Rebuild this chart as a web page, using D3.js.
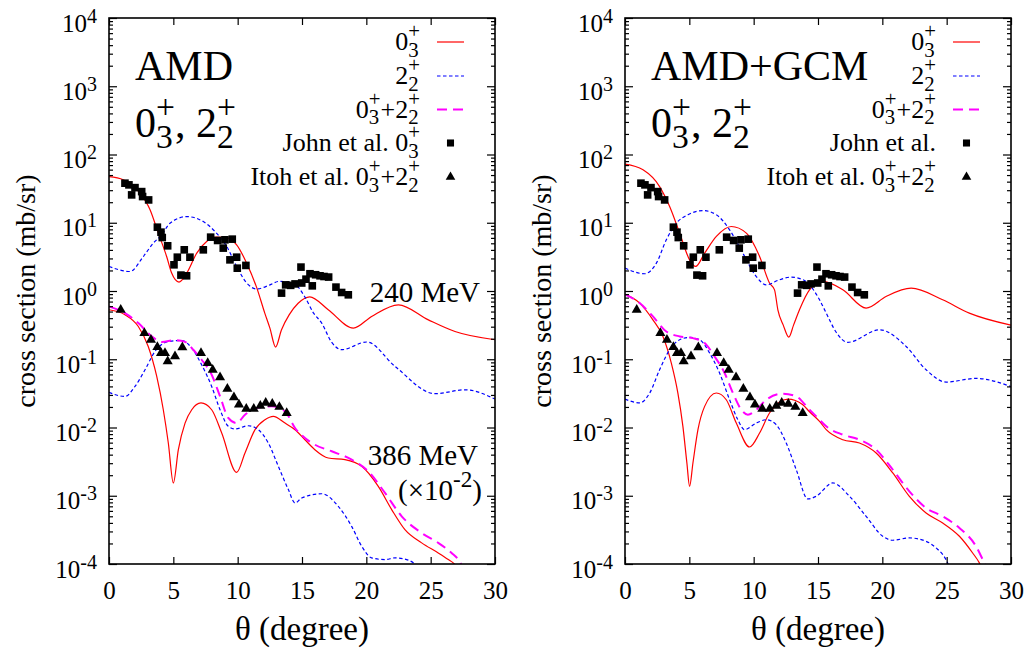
<!DOCTYPE html>
<html>
<head>
<meta charset="utf-8">
<script src="https://cdn.jsdelivr.net/npm/d3@7"></script>
<style>
  body { margin: 0; background: #fff; }
  text { font-family: "Liberation Serif", "Times New Roman", serif; white-space: pre; fill: #000; }
</style>
</head>
<body>
<svg id="chart" width="1032" height="653" font-family="Liberation Serif, serif"></svg>
<script>
// Angular distributions: [theta (deg), cross section (mb/sr)]
// 240 MeV, AMD
const amd240_03 = [[0,47.4],[1.11,42.7],[2.41,27.1],[3.19,15.5],[3.83,7.05],[4.48,3.20],[4.87,1.83],[5.44,1.35],[6.04,1.83],[6.82,3.59],[7.59,5.31],[8.37,6.15],[9.27,5.96],[9.92,4.74],[10.70,2.56],[11.48,1.12],[12.1,0.479],[12.5,0.288],[12.95,0.151],[13.4,0.269],[14.0,0.447],[14.7,0.661],[15.6,0.822],[17.04,0.531],[18.99,0.286],[20.41,0.424],[22.49,0.628],[24.82,0.378],[26.89,0.255],[30,0.193]];
const amd240_22 = [[0,2.29],[1.63,1.93],[2.67,3.20],[3.44,5.02],[4.10,6.65],[4.74,9.86],[6.04,12.3],[7.33,10.4],[8.24,7.43],[9.15,4.49],[9.92,2.29],[10.70,1.31],[11.48,1.07],[12.51,1.23],[13.2,1.38],[14.32,1.31],[15.2,0.832],[15.9,0.474],[16.53,0.339],[17.3,0.178],[18.08,0.138],[20.03,0.179],[22.23,0.0785],[25.34,0.0313],[27.67,0.0357],[30,0.0261]];
// 386 MeV, AMD (drawn scaled by 10^-2)
const amd386_03 = [[0,53.1],[1.24,44.9],[2.28,30.2],[3.05,15.4],[3.71,5.60],[4.22,1.82],[4.61,0.593],[5.0,0.154],[5.39,0.473],[5.91,1.16],[6.43,1.82],[7.15,2.29],[7.98,1.82],[8.76,0.830],[9.92,0.220],[10.57,0.424],[11.35,0.929],[12.12,1.30],[12.77,1.46],[13.68,1.16],[14.46,0.929],[15.23,0.661],[16.0,0.473],[17.04,0.357],[18.34,0.338],[19.64,0.270],[20.93,0.137],[21.97,0.0627],[23.0,0.0319],[24.3,0.0204],[25.59,0.0145],[26.37,0.0116],[26.84,0.0100],[27.2,0.0079]];
const amd386_22 = [[0,3.27],[1.24,2.85],[2.02,4.00],[2.80,7.02],[3.57,13.0],[4.61,18.2],[5.65,18.8],[6.43,14.6],[7.2,8.30],[7.98,4.00],[8.63,1.82],[9.27,1.04],[9.79,0.951],[10.83,1.06],[11.6,0.929],[12.38,0.593],[13.16,0.270],[13.94,0.123],[14.46,0.0783],[14.98,0.0929],[16.53,0.107],[17.82,0.0700],[18.86,0.0356],[19.64,0.0182],[20.41,0.0123],[21.45,0.0116],[22.23,0.0123],[23.26,0.0114],[23.78,0.0100],[24.3,0.0079]];
const amd386_sum = [[0,59.3],[1.24,47.4],[2.28,33.9],[3.32,21.6],[4.10,17.9],[5.13,19.1],[5.91,18.0],[6.55,13.8],[7.2,9.84],[7.98,5.93],[8.63,2.86],[9.27,1.38],[9.92,1.16],[10.57,1.54],[11.48,1.93],[12.64,2.04],[13.68,1.72],[14.46,0.982],[15.23,0.701],[16.0,0.560],[17.31,0.448],[18.86,0.338],[20.15,0.228],[21.45,0.110],[22.75,0.0500],[24.3,0.0285],[25.59,0.0204],[26.63,0.0145],[27.15,0.0116],[27.5,0.0089]];
// 240 MeV, AMD+GCM
const gcm240_03 = [[0,72.1],[1.40,59.6],[2.69,33.9],[3.47,17.3],[4.25,7.05],[5.02,2.86],[5.49,2.29],[6.19,3.59],[7.10,6.30],[8.26,8.81],[9.43,7.05],[10.46,3.21],[11.23,1.31],[11.62,1.04],[11.88,0.531],[12.3,0.316],[12.73,0.211],[13.1,0.316],[13.56,0.531],[14.34,1.04],[15.37,1.38],[16.93,1.04],[18.74,0.562],[20.29,0.832],[22.24,1.10],[24.69,0.743],[26.76,0.474],[30,0.316]];
const gcm240_22 = [[0,2.16],[1.53,1.79],[2.44,2.56],[3.21,5.62],[3.99,9.86],[4.89,13.1],[6.06,15.1],[7.10,13.1],[8.13,7.87],[9.16,3.59],[10.2,1.63],[10.98,1.23],[12.01,1.46],[12.92,1.60],[14.08,1.38],[14.6,1.07],[15.12,0.743],[15.64,0.474],[16.4,0.251],[17.31,0.177],[19.78,0.270],[21.85,0.154],[23.4,0.0702],[24.95,0.0463],[27.28,0.0524],[30,0.0398]];
// 386 MeV, AMD+GCM (drawn scaled by 10^-2)
const gcm386_03 = [[0,89.1],[1.14,66.5],[2.17,37.8],[2.95,21.6],[3.6,8.79],[4.11,3.20],[4.50,1.04],[4.81,0.302],[5.02,0.137],[5.28,0.302],[5.67,0.929],[6.19,2.04],[7.10,3.20],[7.87,2.55],[8.65,1.16],[9.68,0.518],[10.46,0.830],[11.23,1.63],[12.66,2.61],[13.82,2.16],[14.34,1.70],[15.12,1.23],[15.64,0.929],[16.93,0.662],[18.22,0.593],[19.52,0.423],[20.81,0.216],[22.1,0.0982],[23.4,0.0560],[24.69,0.0399],[25.99,0.0255],[27.02,0.0145],[27.54,0.0104],[27.8,0.0083]];
const gcm386_22 = [[0,2.61],[1.14,2.29],[1.92,3.20],[2.69,7.02],[3.47,13.8],[4.25,19.3],[5.02,20.9],[5.80,19.3],[6.58,12.3],[7.35,6.28],[8.13,2.55],[8.77,1.30],[9.29,0.929],[10.2,1.16],[10.98,1.30],[11.75,1.10],[12.53,0.593],[13.31,0.241],[14.21,0.0897],[14.86,0.0982],[16.15,0.154],[17.45,0.0982],[18.74,0.0500],[20.03,0.0255],[20.81,0.0223],[22.1,0.0241],[23.4,0.0215],[24.18,0.0172],[24.95,0.0116],[25.3,0.0083]];
const gcm386_sum = [[0,89.1],[1.14,66.5],[2.17,42.4],[3.21,25.5],[4.25,21.6],[5.28,20.4],[6.19,17.3],[6.96,11.0],[7.74,6.28],[8.39,3.20],[9.04,1.82],[9.55,1.54],[10.20,1.82],[10.98,2.55],[12.27,3.13],[13.31,2.86],[14.34,1.82],[15.12,1.30],[15.64,1.04],[16.93,0.785],[18.22,0.662],[19.52,0.473],[20.81,0.241],[22.1,0.116],[23.4,0.0662],[24.69,0.0500],[25.99,0.0337],[27.28,0.0182],[27.93,0.0104],[28.2,0.0083]];
// Measured data
const john240 = [[1.24,38.0],[1.55,35.9],[1.76,25.6],[2.02,32.7],[2.54,28.6],[2.61,24.2],[3.08,21.6],[3.76,8.61],[4.04,7.28],[4.14,6.07],[4.56,4.59],[5.05,2.42],[5.31,3.13],[5.59,1.71],[5.85,4.01],[6.03,1.67],[6.29,3.13],[7.33,4.01],[7.90,6.15],[8.44,5.50],[8.88,4.25],[9.01,5.62],[9.40,2.86],[9.58,5.75],[9.92,3.13],[9.97,2.16],[10.64,2.37],[13.41,0.931],[13.73,1.23],[14.12,1.21],[14.46,1.27],[14.92,2.24],[14.98,1.31],[15.31,1.49],[15.62,1.79],[15.80,1.19],[16.06,1.73],[16.40,1.67],[16.71,1.63],[17.07,1.60],[17.64,1.14],[18.08,0.951],[18.60,0.879]];
const itoh386 = [[0.91,53.1],[2.75,24.2],[3.26,19.3],[3.76,15.1],[4.04,12.3],[4.35,12.3],[4.56,9.29],[5.13,11.0],[5.70,14.9],[7.15,12.3],[7.67,8.79],[8.06,7.02],[8.63,5.42],[9.20,3.70],[9.71,2.76],[10.10,2.16],[10.67,1.88],[11.25,1.88],[11.76,2.08],[12.18,2.29],[12.69,2.23],[13.24,2.00],[13.81,1.63]];

const scale386 = 1e-2;
const xTicks = [0, 5, 10, 15, 20, 25, 30];
const yExponents = [-4, -3, -2, -1, 0, 1, 2, 3, 4];

const svg = d3.select("#chart");
const W = 386, H = 546;
const x = d3.scaleLinear().domain([0, 30]).range([0, W]);
const y = d3.scaleLog().domain([1e-4, 1e4]).range([H, 0]);

const majorY = yExponents.map(e => Math.pow(10, e));
const minorY = [];
yExponents.slice(0, -1).forEach(e => { for (let k = 2; k <= 9; k++) minorY.push(k * Math.pow(10, e)); });

// Text made of plain runs and stacked sub/superscripts
function rich(g, parts, px, py, size, anchor) {
  const grp = g.append("g");
  let cx = 0;
  parts.forEach(p => {
    if (typeof p === "string") {
      const t = grp.append("text").attr("x", cx).attr("y", 0).attr("font-size", size).text(p);
      cx += t.node().getComputedTextLength();
    } else {
      const s = size * 0.8;
      let w = 0;
      if (p.sup) {
        const t = grp.append("text").attr("x", cx).attr("y", -size * 0.45).attr("font-size", s).text(p.sup);
        w = Math.max(w, t.node().getComputedTextLength());
      }
      if (p.sub) {
        const t = grp.append("text").attr("x", cx).attr("y", size * 0.25).attr("font-size", s).text(p.sub);
        w = Math.max(w, t.node().getComputedTextLength());
      }
      cx += w;
    }
  });
  const x0 = anchor === "end" ? px - cx : anchor === "middle" ? px - cx / 2 : px;
  grp.attr("transform", `translate(${x0},${py})`);
  return grp;
}

const styles = {
  s03: { stroke: "#ff0000", width: 1.2, dash: null },
  s22: { stroke: "#0000ff", width: 1.2, dash: "3.5,2.5" },
  sum: { stroke: "#ff00ff", width: 2, dash: "10,6" }
};

function drawPanel(ox, id, cfg) {
  const g = svg.append("g").attr("transform", `translate(${ox},18)`);
  g.append("clipPath").attr("id", "clip" + id).append("rect").attr("width", W).attr("height", H);
  const plot = g.append("g").attr("clip-path", `url(#clip${id})`);

  const curve = (data, st, sc) => {
    const line = d3.line().x(d => x(d[0])).y(d => y(d[1] * sc)).curve(d3.curveMonotoneX);
    plot.append("path").datum(data).attr("d", line)
      .attr("fill", "none").attr("stroke", st.stroke).attr("stroke-width", st.width)
      .attr("stroke-dasharray", st.dash);
  };
  curve(cfg.c240_03, styles.s03, 1);
  curve(cfg.c240_22, styles.s22, 1);
  curve(cfg.c386_03, styles.s03, scale386);
  curve(cfg.c386_22, styles.s22, scale386);
  curve(cfg.c386_sum, styles.sum, scale386);

  plot.selectAll(".sq").data(john240).join("path")
    .attr("transform", d => `translate(${x(d[0])},${y(d[1])})`)
    .attr("d", d3.symbol(d3.symbolSquare, 58)()).attr("fill", "#000");
  plot.selectAll(".tri").data(itoh386).join("path")
    .attr("transform", d => `translate(${x(d[0])},${y(d[1] * scale386)})`)
    .attr("d", d3.symbol(d3.symbolTriangle, 44)()).attr("fill", "#000");

  // Axes with inward ticks
  const fontTick = 25;
  const bottom = g.append("g").attr("transform", `translate(0,${H})`)
    .call(d3.axisBottom(x).tickValues(xTicks).tickSizeInner(-7).tickSizeOuter(0).tickPadding(17));
  bottom.attr("font-family", null);
  bottom.selectAll("text").attr("font-size", fontTick);
  g.append("g").call(d3.axisTop(x).tickValues(xTicks).tickSizeInner(-7).tickSizeOuter(0).tickFormat(""));

  const left = g.append("g")
    .call(d3.axisLeft(y).tickValues(majorY).tickSizeInner(-8).tickSizeOuter(0).tickPadding(12).tickFormat(""));
  left.attr("font-family", null);
  left.selectAll(".tick text").each(function(d) {
    const t = d3.select(this).attr("font-size", fontTick).attr("dy", "0.52em");
    t.append("tspan").text("10");
    t.append("tspan").attr("dy", "-0.45em").attr("font-size", fontTick * 0.8).text(Math.round(Math.log10(d)));
  });
  g.append("g").call(d3.axisLeft(y).tickValues(minorY).tickSizeInner(-4).tickSizeOuter(0).tickFormat(""));
  g.append("g").attr("transform", `translate(${W},0)`)
    .call(d3.axisRight(y).tickValues(majorY).tickSizeInner(-8).tickSizeOuter(0).tickFormat(""));
  g.append("g").attr("transform", `translate(${W},0)`)
    .call(d3.axisRight(y).tickValues(minorY).tickSizeInner(-4).tickSizeOuter(0).tickFormat(""));
  g.selectAll(".domain").remove();
  g.selectAll(".tick line").attr("stroke", "#000").attr("stroke-width", 1.2);

  g.append("rect").attr("width", W).attr("height", H)
    .attr("fill", "none").attr("stroke", "#000").attr("stroke-width", 1.6);

  // Axis titles
  g.append("text").attr("x", W / 2).attr("y", 622).attr("text-anchor", "middle")
    .attr("font-size", 33).text("\u03b8 (degree)");
  g.append("text").attr("transform", `translate(-74,${H / 2}) rotate(-90)`)
    .attr("text-anchor", "middle").attr("font-size", 28).text("cross section (mb/sr)");

  // Panel titles
  g.append("text").attr("x", 26).attr("y", 62).attr("font-size", 42).text(cfg.title);
  rich(g, ["0", { sub: "3", sup: "+" }, ", 2", { sub: "2", sup: "+" }], 26, 119, 42, "start");

  // Legend
  const lg = 26;
  const rows = [24, 58, 91.5, 125, 159];
  const entries = [
    { parts: ["0", { sub: "3", sup: "+" }], st: styles.s03 },
    { parts: ["2", { sub: "2", sup: "+" }], st: styles.s22 },
    { parts: ["0", { sub: "3", sup: "+" }, "+2", { sub: "2", sup: "+" }], st: styles.sum },
    { parts: cfg.johnLabel, mark: d3.symbolSquare, size: 50 },
    { parts: ["Itoh et al. 0", { sub: "3", sup: "+" }, "+2", { sub: "2", sup: "+" }], mark: d3.symbolTriangle, size: 40 }
  ];
  entries.forEach((e, i) => {
    rich(g, e.parts, 311, rows[i] + 8, lg, "end");
    if (e.st) {
      g.append("line").attr("x1", 328).attr("x2", 355).attr("y1", rows[i]).attr("y2", rows[i])
        .attr("stroke", e.st.stroke).attr("stroke-width", e.st.width).attr("stroke-dasharray", e.st.dash);
    } else {
      g.append("path").attr("transform", `translate(341.5,${rows[i]})`)
        .attr("d", d3.symbol(e.mark, e.size)()).attr("fill", "#000");
    }
  });

  if (cfg.energyLabels) {
    g.append("text").attr("x", 371).attr("y", 284).attr("text-anchor", "end").attr("font-size", 29).text("240 MeV");
    g.append("text").attr("x", 369).attr("y", 447).attr("text-anchor", "end").attr("font-size", 29).text("386 MeV");
    rich(g, ["(\u00d710", { sup: "-2" }, ")"], 373, 482, 29, "end");
  }
}

drawPanel(109, "amd", {
  title: "AMD",
  c240_03: amd240_03, c240_22: amd240_22,
  c386_03: amd386_03, c386_22: amd386_22, c386_sum: amd386_sum,
  johnLabel: ["John et al. 0", { sub: "3", sup: "+" }],
  energyLabels: true
});
drawPanel(625, "gcm", {
  title: "AMD+GCM",
  c240_03: gcm240_03, c240_22: gcm240_22,
  c386_03: gcm386_03, c386_22: gcm386_22, c386_sum: gcm386_sum,
  johnLabel: ["John et al."],
  energyLabels: false
});
</script>
</body>
</html>
